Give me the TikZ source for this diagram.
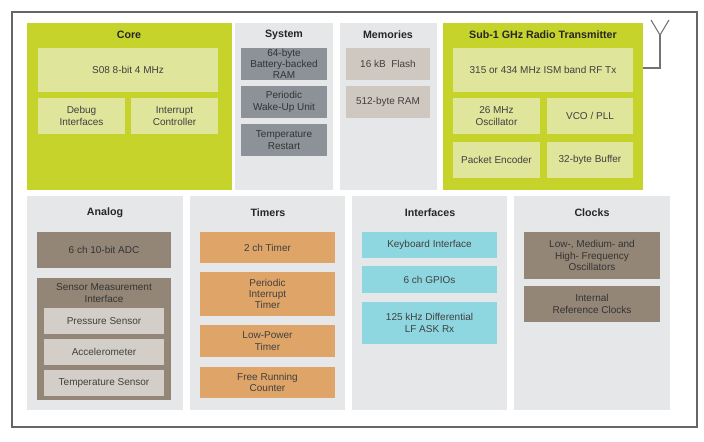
\documentclass[tikz,border=0pt]{standalone}
\usepackage{fontspec}
\setmainfont{Liberation Sans}
\definecolor{grn}{HTML}{C5D32A}
\definecolor{lgrn}{HTML}{DFE59A}
\definecolor{pan}{HTML}{E6E7E9}
\definecolor{dgray}{HTML}{8C9298}
\definecolor{tan}{HTML}{CFC8C0}
\definecolor{brn}{HTML}{948677}
\definecolor{lsen}{HTML}{D3CFC8}
\definecolor{org}{HTML}{DEA468}
\definecolor{cyn}{HTML}{8FD7E0}
\newcommand\bx[7]{\node[#2,minimum width={0.75pt*(#5-#3)},minimum height={0.75pt*(#6-#4)}] (#1) at ({(#3+#5)/2},{(#4+#6)/2}) {#7};}
\tikzset{
 base/.style={rectangle,inner sep=0pt,draw=none,align=center,font=\fontsize{7.5}{8.5}\selectfont,text=black!75},
 green/.style={base,fill=grn},
 lgreen/.style={base,fill=lgrn},
 panel/.style={base,fill=pan},
 sys/.style={base,fill=dgray,text=black!80},
 mem/.style={base,fill=tan},
 brown/.style={base,fill=brn,text=black!80},
 sen/.style={base,fill=lsen},
 orange/.style={base,fill=org},
 cyan/.style={base,fill=cyn},
 ttl/.style={font=\bfseries\fontsize{8}{9}\selectfont,text=black!85,inner sep=0pt},
 wire/.style={draw=black!55,line width=0.8pt}
}
\begin{document}
\begin{tikzpicture}[x=0.75pt,y=-0.75pt]
\useasboundingbox (0,0) rectangle (704,442);
\fill[white] (0,0) rectangle (704,442);
\draw[black!60,line width=0.9pt] (12,12) rectangle (697,427);
% top row
\bx{core}{green}{27}{23}{232}{190}{}
\node[ttl] (tcore) at (129,35) {Core};
\bx{s08}{lgreen}{38}{48}{218}{92}{S08 8-bit 4 MHz}
\bx{dbg}{lgreen}{38}{98}{125}{134}{Debug\\Interfaces}
\bx{irq}{lgreen}{131}{98}{218}{134}{Interrupt\\Controller}
\bx{sys}{panel}{235}{23}{333}{190}{}
\node[ttl] (tsys) at (284,35) {System};
\bx{bram}{sys}{241}{48}{327}{80}{64-byte\\Battery-backed\\RAM}
\bx{pwu}{sys}{241}{86}{327}{118}{Periodic\\Wake-Up Unit}
\bx{trs}{sys}{241}{124}{327}{156}{Temperature\\Restart}
\bx{mems}{panel}{340}{23}{437}{190}{}
\node[ttl] (tmem) at (388,35) {Memories};
\bx{flash}{mem}{346}{48}{430}{80}{16 kB\ \ Flash}
\bx{ram}{mem}{346}{86}{430}{118}{512-byte RAM}
\bx{rf}{green}{443}{23}{643}{190}{}
\node[ttl] (trf) at (543,35) {Sub-1 GHz Radio Transmitter};
\bx{tx}{lgreen}{453}{48}{633}{92}{315 or 434 MHz ISM band RF Tx}
\bx{osc}{lgreen}{453}{98}{540}{134}{26 MHz\\Oscillator}
\bx{vco}{lgreen}{547}{98}{633}{134}{VCO / PLL}
\bx{pe}{lgreen}{453}{142}{540}{178}{Packet Encoder}
\bx{buf}{lgreen}{547}{142}{633}{178}{32-byte Buffer}
\coordinate (ant) at (660,35);
\draw[wire] (rf.east |- 0,68) -| (ant);
\draw[wire] (ant) -- (651,20);
\draw[wire] (ant) -- (669,20);
% bottom row
\bx{ana}{panel}{27}{196}{183}{410}{}
\node[ttl] (tana) at (105,213) {Analog};
\bx{adc}{brown}{37}{232}{171}{268}{6 ch 10-bit ADC}
\bx{smi}{brown}{37}{278}{171}{400}{}
\node[base,text=black!80] (tsmi) at (104,293) {Sensor Measurement\\Interface};
\bx{pres}{sen}{44}{308}{164}{334}{Pressure Sensor}
\bx{acc}{sen}{44}{339}{164}{365}{Accelerometer}
\bx{tsen}{sen}{44}{370}{164}{396}{Temperature Sensor}
\bx{tim}{panel}{190}{196}{345}{410}{}
\node[ttl] (ttim) at (268,213) {Timers};
\bx{t2}{orange}{200}{232}{335}{263}{2 ch Timer}
\bx{pit}{orange}{200}{272}{335}{316}{Periodic\\Interrupt\\Timer}
\bx{lpt}{orange}{200}{325}{335}{357}{Low-Power\\Timer}
\bx{frc}{orange}{200}{367}{335}{398}{Free Running\\Counter}
\bx{itf}{panel}{352}{196}{507}{410}{}
\node[ttl] (titf) at (430,213) {Interfaces};
\bx{kbi}{cyan}{362}{232}{497}{258}{Keyboard Interface}
\bx{gpio}{cyan}{362}{266}{497}{293}{6 ch GPIOs}
\bx{lf}{cyan}{362}{302}{497}{344}{125 kHz Differential\\LF ASK Rx}
\bx{clk}{panel}{514}{196}{670}{410}{}
\node[ttl] (tclk) at (592,213) {Clocks};
\bx{osc3}{brown}{524}{232}{660}{279}{Low-, Medium- and\\High- Frequency\\Oscillators}
\bx{irc}{brown}{524}{286}{660}{322}{Internal\\Reference Clocks}
\end{tikzpicture}
\end{document}
